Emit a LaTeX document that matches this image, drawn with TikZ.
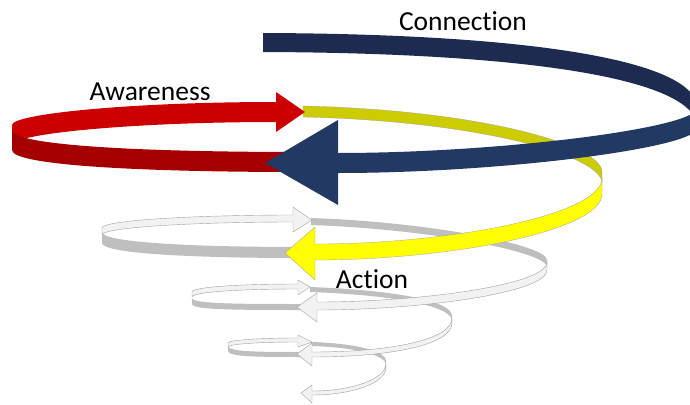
\documentclass[tikz,border=0pt]{standalone}
\usepackage{fontspec}
\setmainfont{Carlito}[Ligatures={NoCommon}]
\usetikzlibrary{calc}
\definecolor{cNavyBack}{RGB}{29,43,80}
\definecolor{cNavyFront}{RGB}{33,57,99}
\definecolor{cRedBack}{RGB}{204,0,0}
\definecolor{cRedFront}{RGB}{165,0,0}
\definecolor{cYelBack}{RGB}{204,204,0}
\definecolor{cYelFront}{RGB}{255,255,0}
\definecolor{cGrayDark}{RGB}{191,191,191}
\definecolor{cGrayLight}{RGB}{242,242,242}
\definecolor{cGrayLine}{RGB}{160,160,160}
\tikzset{
  navyback/.style={fill=cNavyBack},
  navyfront/.style={fill=cNavyFront},
  redback/.style={fill=cRedBack},
  redfront/.style={fill=cRedFront},
  yelback/.style={fill=cYelBack, draw=cGrayLine, line width=0.3pt},
  yelfront/.style={fill=cYelFront, draw=cGrayLine, line width=0.3pt},
  graydark/.style={fill=cGrayDark},
  graylight/.style={fill=cGrayLight, draw=cGrayLine, line width=0.4pt},
  label/.style={font=\fontsize{27.5}{33}\selectfont, anchor=base, inner sep=0pt}
}
% ribbon band: style, height, p0, c1, c2, p1
\newcommand{\ribbonband}[6]{%
  \path[#1] (#3) .. controls (#4) and (#5) .. (#6)
    -- ($(#6)+(0,#2)$) .. controls ($(#5)+(0,#2)$) and ($(#4)+(0,#2)$) .. ($(#3)+(0,#2)$) -- cycle;}
% ribbon band ending in an arrowhead: style, height, p0, c1, c2, p1, corner1, tip, corner2
\newcommand{\ribbonarrow}[9]{%
  \path[#1] (#3) .. controls (#4) and (#5) .. (#6) -- (#7) -- (#8) -- (#9)
    -- ($(#6)+(0,#2)$) .. controls ($(#5)+(0,#2)$) and ($(#4)+(0,#2)$) .. ($(#3)+(0,#2)$) -- cycle;}
\begin{document}
\begin{tikzpicture}[x=1pt,y=-1pt]
\useasboundingbox (0,0) rectangle (690,404);
\clip (0,0) rectangle (690,404);
% --- top turn: navy back, yellow back, red
\ribbonband{navyback}{19}{263,33}{540,34}{697,62}{697,108}
\ribbonband{yelback}{11}{303,106}{480,110}{602,145}{602,172}
\ribbonarrow{redback}{20}{12,125}{12,114}{130,102}{276,102}{276,92}{305,112}{276,132}
\ribbonband{redfront}{20}{12,130}{12,146}{150,152}{300,152}
\ribbonarrow{navyfront}{20}{697,108}{697,128}{500,153}{338,153}{338,120}{265,163}{338,205}
% --- gray level 1
\ribbonband{graydark}{7}{311,218}{430,222}{547,245}{547,260}
\ribbonarrow{graylight}{7}{102,228}{102,220}{200,215}{293,215}{293,207}{312,220}{293,232}
\ribbonband{graydark}{11}{102,232}{102,243}{200,247}{300,247}
\ribbonarrow{yelfront}{16}{602,178}{602,215}{450,244}{315,244}{315,227}{285,253}{315,280}
% --- gray level 2
\ribbonband{graydark}{5}{310,287}{390,290}{452,300}{452,316}
\ribbonarrow{graylight}{5}{192,292}{192,287}{240,284}{298,284}{298,280}{310,287}{298,295}
\ribbonband{graydark}{6}{192,298}{192,304}{240,304}{305,304}
\ribbonarrow{graylight}{8}{547,262}{547,285}{420,302}{317,302}{317,293}{297,307}{317,322}
% --- gray level 3
\ribbonband{graydark}{4}{311,342}{350,343}{386,350}{386,361}
\ribbonarrow{graylight}{4}{228,343}{228,340}{260,338}{298,338}{298,335}{312,342}{298,347}
\ribbonband{graydark}{5}{228,346}{228,352}{260,352}{305,352}
\ribbonarrow{graylight}{5}{452,318}{452,340}{390,352}{312,352}{312,343}{297,354}{312,366}
\ribbonarrow{graylight}{4}{386,363}{386,380}{350,391}{312,391}{312,385}{301,393}{312,403}
% --- labels
\node[label] (connection) at (463,31) {Connection};
\node[label] (awareness) at (150,100) {Awareness};
\node[label] (action) at (372,288) {Action};
\end{tikzpicture}
\end{document}
